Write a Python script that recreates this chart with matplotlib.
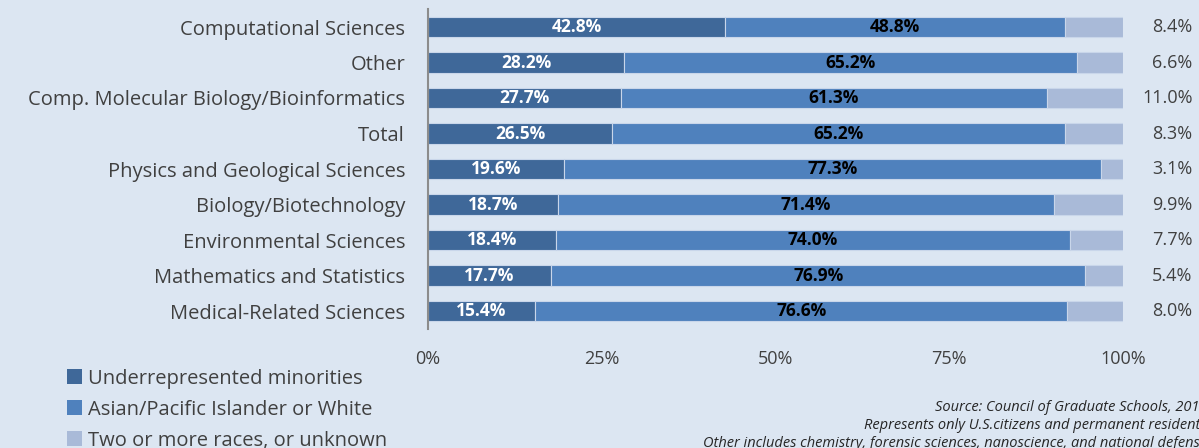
import matplotlib.pyplot as plt
from matplotlib.patches import Patch

categories = ["Computational Sciences", "Other", "Comp. Molecular Biology/Bioinformatics",
              "Total", "Physics and Geological Sciences", "Biology/Biotechnology",
              "Environmental Sciences", "Mathematics and Statistics", "Medical-Related Sciences"]
urm = [42.8, 28.2, 27.7, 26.5, 19.6, 18.7, 18.4, 17.7, 15.4]
asian_white = [48.8, 65.2, 61.3, 65.2, 77.3, 71.4, 74.0, 76.9, 76.6]
two_or_more = [8.4, 6.6, 11.0, 8.3, 3.1, 9.9, 7.7, 5.4, 8.0]
series_names = ["Underrepresented minorities", "Asian/Pacific Islander or White",
                "Two or more races, or unknown"]
xticks = [0, 25, 50, 75, 100]
notes = ["Source: Council of Graduate Schools, 2013",
         "Represents only U.S.citizens and permanent residents",
         "Other includes chemistry, forensic sciences, nanoscience, and national defense"]

bg = "#DCE6F2"
colors = ["#3F6899", "#4F81BD", "#A9BAD8"]
plt.rcParams['font.family'] = ['Open Sans', 'DejaVu Sans']

fig = plt.figure(figsize=(11.99, 4.48), dpi=100, facecolor=bg)
ax = fig.add_axes([428 / 1199, 1 - 328.75 / 448, 695 / 1199, 319.5 / 448])
ax.set_facecolor(bg)

y = list(range(len(categories)))
h = 0.57
left2 = [a + b for a, b in zip(urm, asian_white)]
ax.barh(y, urm, height=h, color=colors[0], edgecolor="#C9D6EA", linewidth=0.8)
ax.barh(y, asian_white, left=urm, height=h, color=colors[1], edgecolor="#C9D6EA", linewidth=0.8)
ax.barh(y, two_or_more, left=left2, height=h, color=colors[2], edgecolor="#C9D6EA", linewidth=0.8)

for i in y:
    ax.text(urm[i] / 2, i, f"{urm[i]:.1f}%", ha="center", va="center",
            color="white", fontweight="bold", fontsize=12.5)
    ax.text(urm[i] + asian_white[i] / 2, i, f"{asian_white[i]:.1f}%", ha="center",
            va="center", color="black", fontweight="bold", fontsize=12.5)
    ax.text(110.0, i, f"{two_or_more[i]:.1f}%", ha="right", va="center",
            color="#404040", fontsize=13, clip_on=False)

ax.set_xlim(0, 100)
ax.set_ylim(len(categories) - 0.5, -0.5)
ax.set_yticks(y)
ax.set_yticklabels(categories, fontsize=14.5, color="#404040")
ax.set_xticks(xticks)
ax.set_xticklabels([f"{t}%" for t in xticks], fontsize=13, color="#404040")
ax.tick_params(axis="both", length=0)
ax.tick_params(axis="x", pad=15)
ax.tick_params(axis="y", pad=16.5)
for s in ["top", "right", "bottom"]:
    ax.spines[s].set_visible(False)
ax.spines["left"].set_color("#8C8C8C")
ax.spines["left"].set_linewidth(1.5)

handles = [Patch(facecolor=c) for c in colors]
fig.legend(handles, series_names, loc="lower left", bbox_to_anchor=(49 / 1199, -21 / 448),
           frameon=False, fontsize=14.5, handlelength=0.75, handleheight=0.75,
           handletextpad=0.3, labelspacing=0.55, labelcolor="#404040")

for k, line in enumerate(notes):
    fig.text(1207 / 1199, 1 - (407 + k * 18) / 448, line, ha="right", va="center",
             fontsize=10.5, style="italic", color="#262626")

fig.savefig("out.png", dpi=100, facecolor=bg)
